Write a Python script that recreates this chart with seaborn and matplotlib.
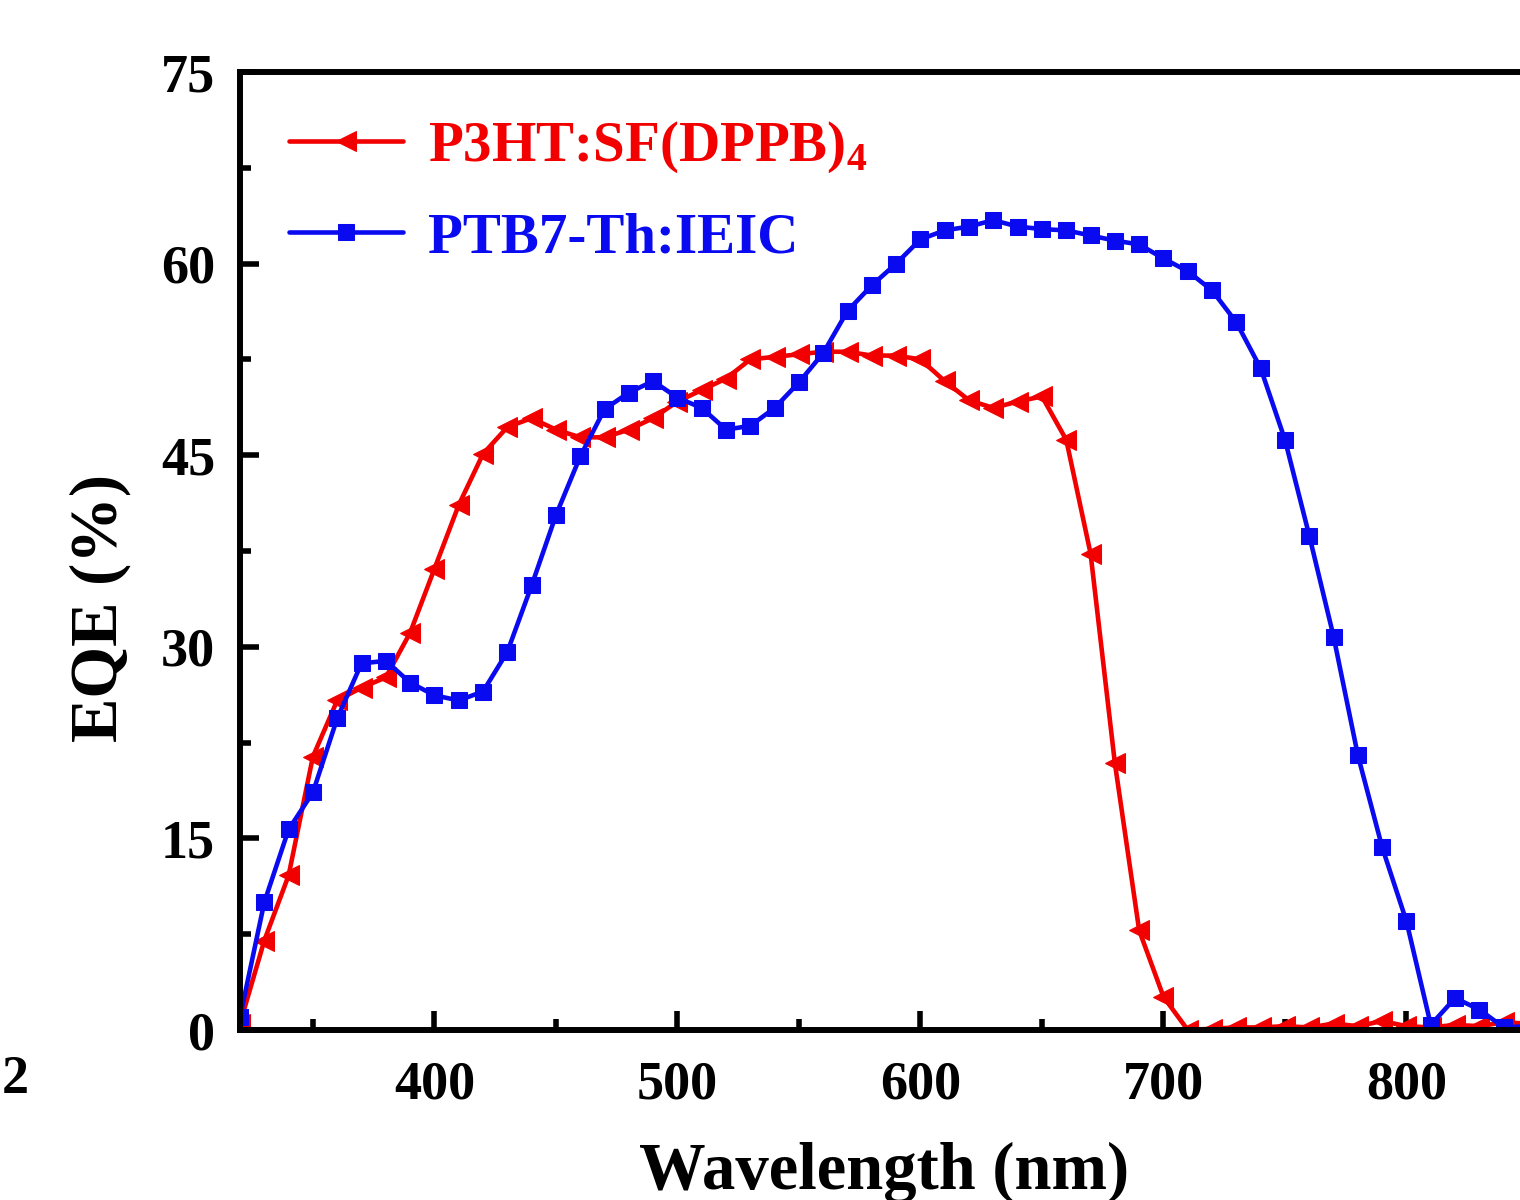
import numpy as np
import pandas as pd
from matplotlib import pyplot as plt
from matplotlib.ticker import MultipleLocator
import seaborn as sns

# data, 10 nm steps
wavelength = list(range(320, 860, 10))

eqe_p3ht = [0.5, 7.0, 12.1, 21.4, 25.8, 26.8, 27.6, 31.1, 36.1, 41.1,
            45.1, 47.2, 47.9, 47.0, 46.4, 46.4, 47.0, 47.9, 49.2, 50.1,
            51.0, 52.5, 52.7, 52.9, 53.1, 53.1, 52.8, 52.8, 52.5, 50.8,
            49.3, 48.7, 49.2, 49.6, 46.2, 37.3, 20.9, 7.8, 2.6, 0.0,
            0.1, 0.2, 0.2, 0.3, 0.2, 0.5, 0.3, 0.7, 0.3, 0.2,
            0.4, 0.3, 0.6, 0.5]

eqe_ptb7 = [1.0, 10.0, 15.7, 18.6, 24.4, 28.7, 28.9, 27.2, 26.2, 25.8,
            26.5, 29.6, 34.8, 40.3, 44.9, 48.6, 49.9, 50.8, 49.5, 48.7,
            47.0, 47.3, 48.7, 50.7, 53.0, 56.3, 58.3, 60.0, 61.9, 62.6,
            62.9, 63.4, 62.9, 62.7, 62.6, 62.2, 61.8, 61.5, 60.4, 59.4,
            57.9, 55.4, 51.8, 46.2, 38.7, 30.8, 21.5, 14.3, 8.5, 0.4,
            2.5, 1.6, 0.2, 0.3]

labels = [r'P3HT:SF(DPPB)$_\mathbf{4}$', 'PTB7-Th:IEIC']
colors = ['#f20000', '#0a0af0']

df = pd.DataFrame({'wl': wavelength, 'a': eqe_p3ht, 'b': eqe_ptb7})

sns.set_style('white')
plt.rcParams['font.family'] = ['Liberation Serif', 'DejaVu Serif']
plt.rcParams['font.weight'] = 'bold'
plt.rcParams['text.color'] = 'black'
plt.rcParams['axes.labelcolor'] = 'black'
plt.rcParams['xtick.color'] = 'black'
plt.rcParams['ytick.color'] = 'black'
plt.rcParams['mathtext.fontset'] = 'custom'
plt.rcParams['mathtext.bf'] = 'Liberation Serif:bold'
plt.rcParams['mathtext.rm'] = 'Liberation Serif:bold'

big = 48
med = 41
tick = 39

fig = plt.figure(figsize=(15.2, 12), dpi=100)
ax = fig.add_axes([240/1520, 170/1200, 1288/1520, 958/1200])

sns.lineplot(data=df, x='wl', y='a', ax=ax, color=colors[0], marker='<',
             markersize=15, markeredgecolor=colors[0], linewidth=3.3,
             label=labels[0])
sns.lineplot(data=df, x='wl', y='b', ax=ax, color=colors[1], marker='s',
             markersize=12, markeredgecolor=colors[1], linewidth=3.3,
             label=labels[1])

ax.set_xlim(320, 850)
ax.set_ylim(0, 75)
ax.xaxis.set_major_locator(MultipleLocator(100))
ax.xaxis.set_minor_locator(MultipleLocator(50))
ax.yaxis.set_major_locator(MultipleLocator(15))
ax.yaxis.set_minor_locator(MultipleLocator(7.5))

for s in ax.spines.values():
    s.set_linewidth(4.3)
    s.set_color('black')

ax.tick_params(which='major', direction='in', length=14, width=4,
               labelsize=tick, bottom=True, left=True, top=False, right=False)
ax.tick_params(which='minor', direction='in', length=8, width=4,
               bottom=True, left=True, top=False, right=False)
ax.tick_params(axis='x', which='major', pad=22)
ax.tick_params(axis='y', which='major', pad=18)

ax.set_xlabel('Wavelength (nm)', fontsize=big, fontweight='bold', labelpad=22)
ax.set_ylabel('EQE (%)', fontsize=big, fontweight='bold')
ax.yaxis.set_label_coords(-0.085, 0.44)

leg = ax.legend(loc='upper left', bbox_to_anchor=(0.038, 0.95), frameon=False,
                fontsize=med, handlelength=2.0, handletextpad=0.45,
                labelspacing=0.65, borderpad=0, borderaxespad=0,
                labelcolor='linecolor')

fig.text(2/1520, 1 - 1080/1200, '2', fontsize=tick, fontweight='bold',
         ha='left', va='center')

fig.savefig('out.png', dpi=100)
